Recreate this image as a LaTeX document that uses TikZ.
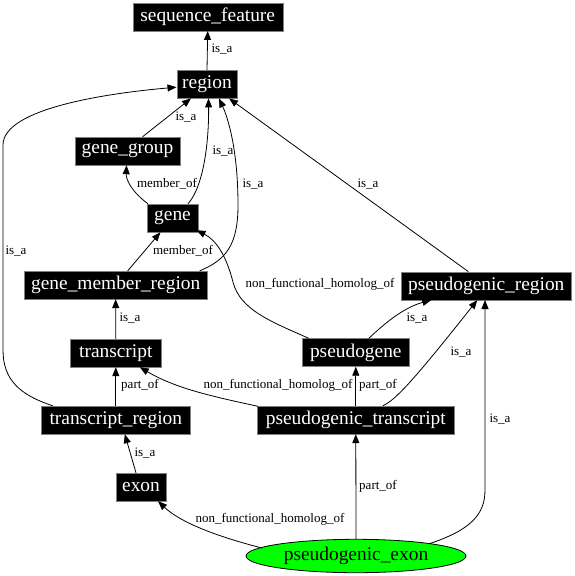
\documentclass[tikz,border=0pt]{standalone}
\usepackage{fontspec}
\setmainfont{Liberation Serif}
\usetikzlibrary{arrows.meta,calc,shapes.geometric}
\tikzset{
  box/.style={fill=black, draw=gray, text=white, inner sep=0pt, minimum height=28pt,
    font=\fontsize{19.4}{21}\selectfont},
  lbl/.style={font=\fontsize{13}{14}\selectfont, inner sep=0pt},
  edge/.style={draw=black, line width=0.8pt, -{Triangle[length=9pt,width=7pt]}},
}
\begin{document}
\begin{tikzpicture}[x=1pt,y=-1pt]
\useasboundingbox (0,0) rectangle (574,576);
% nodes
\node[box, minimum width=150pt] (sf) at (207.7,16.7) {sequence\_feature};
\node[box, minimum width=60.6pt] (region) at (207,84.2) {region};
\node[box, minimum width=105pt] (gg) at (127.5,151) {gene\_group};
\node[box, minimum width=51.6pt] (gene) at (172.5,218) {gene};
\node[box, minimum width=183.3pt] (gmr) at (115.7,285) {gene\_member\_region};
\node[box, minimum width=91.7pt] (tx) at (115.8,353) {transcript};
\node[box, minimum width=149.7pt] (tr) at (115.8,420) {transcript\_region};
\node[box, minimum width=50pt] (exon) at (141,487) {exon};
\node[box, minimum width=169.3pt] (pr) at (486.3,285.8) {pseudogenic\_region};
\node[box, minimum width=107pt] (pg) at (355.8,352.5) {pseudogene};
\node[box, minimum width=197pt] (pt) at (355.8,420) {pseudogenic\_transcript};
\node[ellipse, fill={rgb,255:red,0;green,255;blue,0}, draw=black, line width=0.8pt,
  minimum width=220pt, minimum height=33.4pt, inner sep=0pt,
  font=\fontsize{19.4}{21}\selectfont] (pe) at (356,556) {pseudogenic\_exon};
% edges
\draw[edge] (region.north) -- (sf.south);
\draw[edge] ($(gg.north)+(15,0)$) -- ($(region.south)+(-16,0)$);
\draw[edge] ($(gene.north)+(15.5,0)$) .. controls (204,186) and (209,140) .. ($(region.south)+(1.5,0)$);
\draw[edge] ($(gene.north)+(-24.5,0)$) .. controls (132,192) and (126,180) .. ($(gg.south)+(-1,0)$);
\draw[edge] ($(gmr.north)+(12,0)$) -- ($(gene.south)+(-12,0)$);
\draw[edge] ($(gmr.north)+(84,0)$) .. controls (226,260) and (238,245) .. (238,205)
  .. controls (238,150) and (228,118) .. ($(region.south)+(12,0)$);
\draw[edge] ($(tr.north)+(-63,0)$) .. controls (20,395) and (3,380) .. (3,350)
  -- (3,145) .. controls (3,108) and (110,93) .. ($(region.west)+(0,3)$);
\draw[edge] ($(pr.north)+(-18,0)$) -- ($(region.south)+(22,0)$);
\draw[edge] ($(pg.north)+(-47,0)$) .. controls (272,322) and (240,310) .. (233,282)
  .. controls (226,255) and (216,240) .. ($(gene.south east)+(-2,-2)$);
\draw[edge] ($(pg.north)+(13,0)$) .. controls (382,326) and (402,308) .. ($(pr.south)+(-55,0)$);
\draw[edge] (tx.north) -- (gmr.south);
\draw[edge] (tr.north) -- (tx.south);
\draw[edge] ($(pt.north west)+(1,0.5)$) .. controls (210,396) and (175,388) .. ($(tx.south)+(24,0)$);
\draw[edge] (pt.north) -- (pg.south);
\draw[edge] ($(pt.north)+(27,0)$) .. controls (395,400) and (410,385) .. ($(pr.south)+(-9,0)$);
\draw[edge] ($(exon.north)+(-5,0)$) -- ($(tr.south)+(9,0)$);
\draw[edge] ($(pe.center)+(-94,-8)$) .. controls (215,536) and (180,522) .. ($(exon.south)+(17,0)$);
\draw[edge] (pe.north) -- (pt.south);
\draw[edge] ($(pe.center)+(74,-12.5)$) .. controls (470,530) and (485,515) .. (485,490)
  -- ($(pr.south)+(-1.3,0)$);
% labels
\node[lbl] (l1) at (222,49) {is\_a};
\node[lbl] (l2) at (186,117) {is\_a};
\node[lbl] (l3) at (223,151) {is\_a};
\node[lbl] (l4) at (167,184) {member\_of};
\node[lbl] (l5) at (183,251) {member\_of};
\node[lbl] (l6) at (253,184) {is\_a};
\node[lbl] (l7) at (16,251) {is\_a};
\node[lbl] (l8) at (368,184) {is\_a};
\node[lbl] (l9) at (320,284) {non\_functional\_homolog\_of};
\node[lbl] (l10) at (417,318) {is\_a};
\node[lbl] (l11) at (130,318) {is\_a};
\node[lbl] (l12) at (140,385) {part\_of};
\node[lbl] (l13) at (278,385) {non\_functional\_homolog\_of};
\node[lbl] (l14) at (378,385) {part\_of};
\node[lbl] (l15) at (461,352) {is\_a};
\node[lbl] (l16) at (145,453) {is\_a};
\node[lbl] (l17) at (270,519) {non\_functional\_homolog\_of};
\node[lbl] (l18) at (378,486) {part\_of};
\node[lbl] (l19) at (500,419) {is\_a};
\end{tikzpicture}
\end{document}
